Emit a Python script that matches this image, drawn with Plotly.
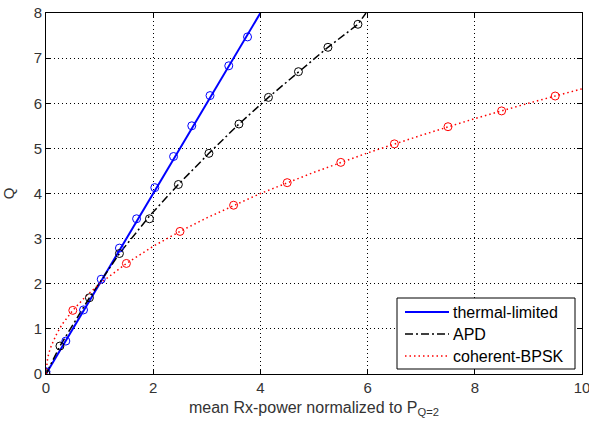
import plotly.graph_objects as go

# ---- data ----
thermal_line_x = [0, 4.0]
thermal_line_y = [0, 8.0]
thermal_mark_x = [0, 0.37, 0.70, 1.03, 1.37, 1.69, 2.03, 2.38, 2.72, 3.06, 3.41, 3.76]
thermal_mark_y = [0.05, 0.73, 1.42, 2.10, 2.79, 3.44, 4.13, 4.82, 5.50, 6.17, 6.83, 7.47]

apd_line_x = [0, 0.26, 0.81, 1.37, 1.93, 2.47, 3.04, 3.60, 4.15, 4.71, 5.26, 5.82, 5.97]
apd_line_y = [0, 0.62, 1.69, 2.67, 3.50, 4.20, 4.89, 5.54, 6.13, 6.70, 7.24, 7.75, 8.0]
apd_mark_x = [0, 0.26, 0.81, 1.37, 1.93, 2.47, 3.04, 3.60, 4.15, 4.71, 5.26, 5.82]
apd_mark_y = [0, 0.62, 1.69, 2.67, 3.44, 4.20, 4.89, 5.54, 6.13, 6.70, 7.24, 7.75]

bpsk_line_x = [0, 0.01, 0.03, 0.06, 0.1, 0.2, 0.3, 0.5, 0.75, 1, 1.5, 2, 2.5, 3, 4, 5, 6, 7, 8, 9, 10]
bpsk_line_y = [0, 0.20, 0.35, 0.49, 0.63, 0.89, 1.10, 1.41, 1.73, 2.00, 2.45, 2.83, 3.16, 3.46,
               4.00, 4.47, 4.90, 5.29, 5.66, 6.00, 6.32]
bpsk_mark_x = [0.5, 1.5, 2.5, 3.5, 4.5, 5.5, 6.5, 7.5, 8.5, 9.5]
bpsk_mark_y = [1.41, 2.45, 3.16, 3.74, 4.24, 4.69, 5.10, 5.48, 5.83, 6.16]

x_ticks = [0, 2, 4, 6, 8, 10]
y_ticks = [0, 1, 2, 3, 4, 5, 6, 7, 8]

names = ["thermal-limited", "APD", "coherent-BPSK"]
colors = ["#0000ff", "black", "#ff0000"]
widths = [2, 1.5, 1.5]
dashes = ["solid", "8px,3px,2px,3px", "1.5px,3px"]

FONT = "Liberation Sans, Arial"

fig = go.Figure()
line_sets = [(thermal_line_x, thermal_line_y), (apd_line_x, apd_line_y), (bpsk_line_x, bpsk_line_y)]
mark_sets = [(thermal_mark_x, thermal_mark_y), (apd_mark_x, apd_mark_y), (bpsk_mark_x, bpsk_mark_y)]
for (lx, ly), n, c, w, d in zip(line_sets, names, colors, widths, dashes):
    fig.add_trace(go.Scatter(x=lx, y=ly, mode="lines", name=n, showlegend=False,
                             line=dict(color=c, width=w, dash=d)))
for (mx, my), c in zip(mark_sets, colors):
    fig.add_trace(go.Scatter(x=mx, y=my, mode="markers", showlegend=False,
                             marker=dict(symbol="circle-open", size=8, color=c, line=dict(width=1))))

axis_common = dict(
    showline=True, linecolor="black", linewidth=1, mirror="ticks",
    ticks="inside", ticklen=5, tickcolor="black",
    showgrid=True, gridcolor="black", gridwidth=1, griddash="1px,3px",
    zeroline=False, ticklabeloverflow="allow",
    tickfont=dict(family=FONT, size=15, color="#333333"),
)

fig.update_xaxes(range=[0, 10], tickvals=x_ticks, ticktext=[str(v) for v in x_ticks],
                 automargin="bottom",
                 title=dict(text="mean Rx-power normalized to P<sub>Q=2</sub>",
                            font=dict(family=FONT, size=16, color="#333333"), standoff=6),
                 **axis_common)
fig.update_yaxes(range=[0, 8], tickvals=y_ticks, ticktext=[str(v) for v in y_ticks],
                 automargin=False,
                 title=dict(text="Q", font=dict(family=FONT, size=15, color="#333333")),
                 **axis_common)

# ---- legend box drawn in plot-area pixel space (converted to paper coords) ----
L, R, T, B, W, H = 46, 582, 13, 374, 536, 361
def px(x):
    return (x - L) / W
def py(y):
    return (B - y) / H

shapes = [dict(type="rect", xref="paper", yref="paper", x0=px(397), x1=px(575), y0=py(369), y1=py(298),
               fillcolor="white", line=dict(color="black", width=1), layer="above")]
annotations = []
rows = [312, 334, 356]
for n, c, w, d, ry in zip(names, colors, widths, dashes, rows):
    shapes.append(dict(type="line", xref="paper", yref="paper", x0=px(405), x1=px(449), y0=py(ry), y1=py(ry),
                       line=dict(color=c, width=w, dash=d), layer="above"))
    annotations.append(dict(text=n, xref="paper", yref="paper", x=px(451), y=py(ry), xanchor="left",
                            yanchor="middle", showarrow=False,
                            font=dict(family=FONT, size=16, color="black")))

fig.update_layout(
    width=589, height=426,
    margin=dict(l=46, r=7, t=13, b=52),
    paper_bgcolor="white", plot_bgcolor="white",
    font=dict(family=FONT, size=15, color="#333333"),
    showlegend=False,
    shapes=shapes, annotations=annotations,
)

fig.write_html("out.html")
